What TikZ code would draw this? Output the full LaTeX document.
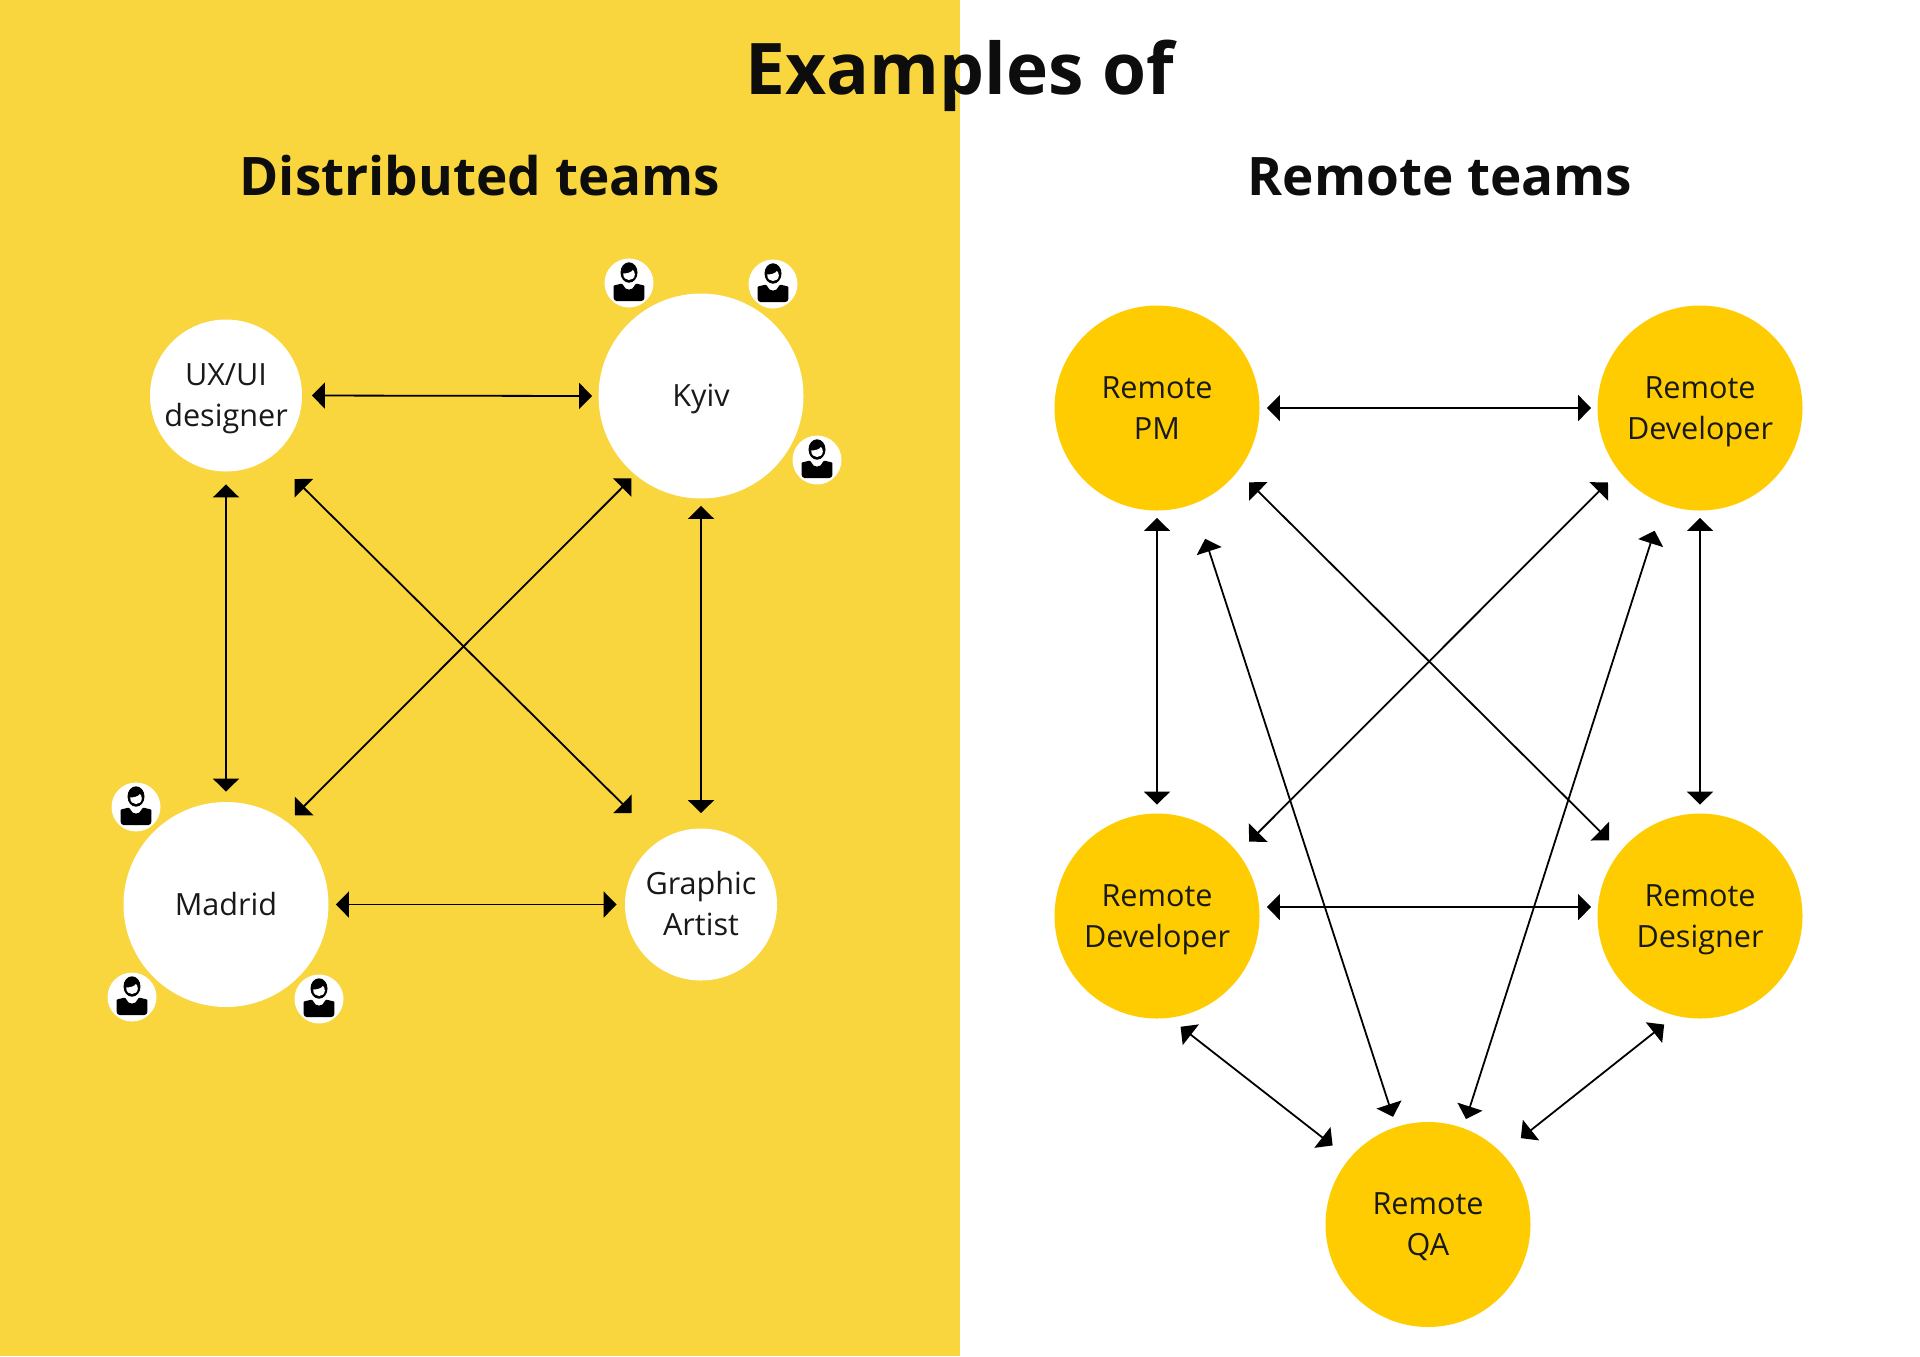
\documentclass[tikz,border=0pt]{standalone}
\usepackage{fontspec}
\setmainfont{Open Sans}
\usetikzlibrary{arrows.meta}

\definecolor{panelyellow}{HTML}{F9D53E}
\definecolor{teamyellow}{HTML}{FECC00}
\tikzset{
	heading/.style={font=\bfseries\fontsize{26.55}{32}\selectfont, anchor=base, text=black!95},
	team/.style={circle, inner sep=0pt, align=center, font=\fontsize{15.3}{20.3}\selectfont, text=black!90,
		execute at end node={\rule[-4.5pt]{0pt}{4.5pt}}},
	twolines/.style={team, execute at begin node={\rule{0pt}{35.5pt}}},
	big/.style={team, minimum size=102.5pt, fill=white, execute at begin node={\rule{0pt}{15.1pt}}},
	small/.style={twolines, minimum size=76pt, fill=white},
	remote/.style={twolines, minimum size=102.5pt, fill=teamyellow},
	badge/.style={circle, fill=white, minimum size=24.5pt, inner sep=0pt},
	link/.style={{Triangle[length=6.5pt,width=13pt]}-{Triangle[length=6.5pt,width=13pt]}, line width=0.9pt},
	person/.pic={
		\fill[black] (0,-10.5) ellipse (8.5 and 10.2);
		\fill[white] (-5.8,-9.5) .. controls (-2,-9.5) and (2,-10.5) .. (4,-13) .. controls (5,-12) and (5.8,-10.5) .. (5.8,-8.5) .. controls (5.8,-5) and (3,-3) .. (0,-3) .. controls (-3,-3) and (-5.8,-5) .. (-5.8,-9.5) -- cycle;
		\fill[black, rounded corners=1.5pt] (-15.3,18) -- (-15.3,6) .. controls (-15.3,2) and (-10,1.5) .. (-6.5,-0.5) .. controls (-4,8) and (4,8) .. (6.5,-0.5) .. controls (10,1.5) and (15.3,2) .. (15.3,6) -- (15.3,18) -- cycle;
	}
}

\begin{document}
\begin{tikzpicture}[x=0.5pt,y=-0.5pt]
	\useasboundingbox (0,0) rectangle (1920,1356);
	\fill[panelyellow] (0,0) rectangle (960,1356);

	\node[heading, font=\bfseries\fontsize{35.6}{40}\selectfont] (title) at (960,94) {Examples of};
	\node[heading] (distributed) at (480,195) {Distributed teams};
	\node[heading] (remoteteams) at (1440,195) {Remote teams};

	% left side
	\node[small] (ux) at (226,395.5) {UX/UI\\designer};
	\node[big] (kyiv) at (701,396) {Kyiv};
	\node[big] (madrid) at (226,904.5) {Madrid};
	\node[small] (artist) at (701,904.5) {Graphic\\Artist};

	\foreach \name/\x/\y in {k1/629/283, k2/773/284, k3/817/460, m1/136/807, m2/132/997, m3/319/999} {
		\node[badge] (\name) at (\x,\y) {};
		\pic at (\name) {person};
	}

	\draw[link, shorten <=4.75pt, shorten >=3pt] (ux.east) -- (kyiv.west);
	\draw[link, shorten <=6.25pt, shorten >=5pt] (ux.south) -- (madrid.north);
	\draw[link, shorten <=3.5pt, shorten >=7.5pt] (kyiv.south) -- (artist.north);
	\draw[link, shorten <=3.5pt, shorten >=4pt] (madrid.east) -- (artist.west);
	\draw[link, shorten <=2.5pt, shorten >=5pt] (kyiv.230.6) -- (madrid.53.7);
	\draw[link, shorten <=16pt, shorten >=19.5pt] (ux.-53.7) -- (artist.123);

	% right side
	\node[remote] (pm) at (1157,408) {Remote\\PM};
	\node[remote] (dev) at (1700,408) {Remote\\Developer};
	\node[remote] (rdev) at (1157,916) {Remote\\Developer};
	\node[remote] (des) at (1700,916) {Remote\\Designer};
	\node[remote] (qa) at (1428,1224.5) {Remote\\QA};

	\draw[link, shorten <=3.5pt, shorten >=3pt] (pm.east) -- (dev.west);
	\draw[link, shorten <=3.5pt, shorten >=4.25pt] (pm.south) -- (rdev.north);
	\draw[link, shorten <=3.5pt, shorten >=4.25pt] (dev.south) -- (des.north);
	\draw[link, shorten <=3.7pt, shorten >=3.2pt] (rdev.5) -- (des.175);
	\draw[link, shorten <=7.75pt, shorten >=7.75pt] (pm.-38.1) -- (des.141.9);
	\draw[link, shorten <=7.75pt, shorten >=7.75pt] (dev.218.1) -- (rdev.38.1);
	\draw[link, shorten <=18.25pt, shorten >=5.15pt] (pm.-69.1) -- (qa.108.6);
	\draw[link, shorten <=14pt, shorten >=4.6pt] (dev.249.6) -- (qa.70);
	\draw[link, shorten <=7pt, shorten >=10.5pt] (rdev.-83) -- (qa.140.5);
	\draw[link, shorten <=7pt, shorten >=12pt] (des.256.6) -- (qa.44.7);
\end{tikzpicture}
\end{document}
